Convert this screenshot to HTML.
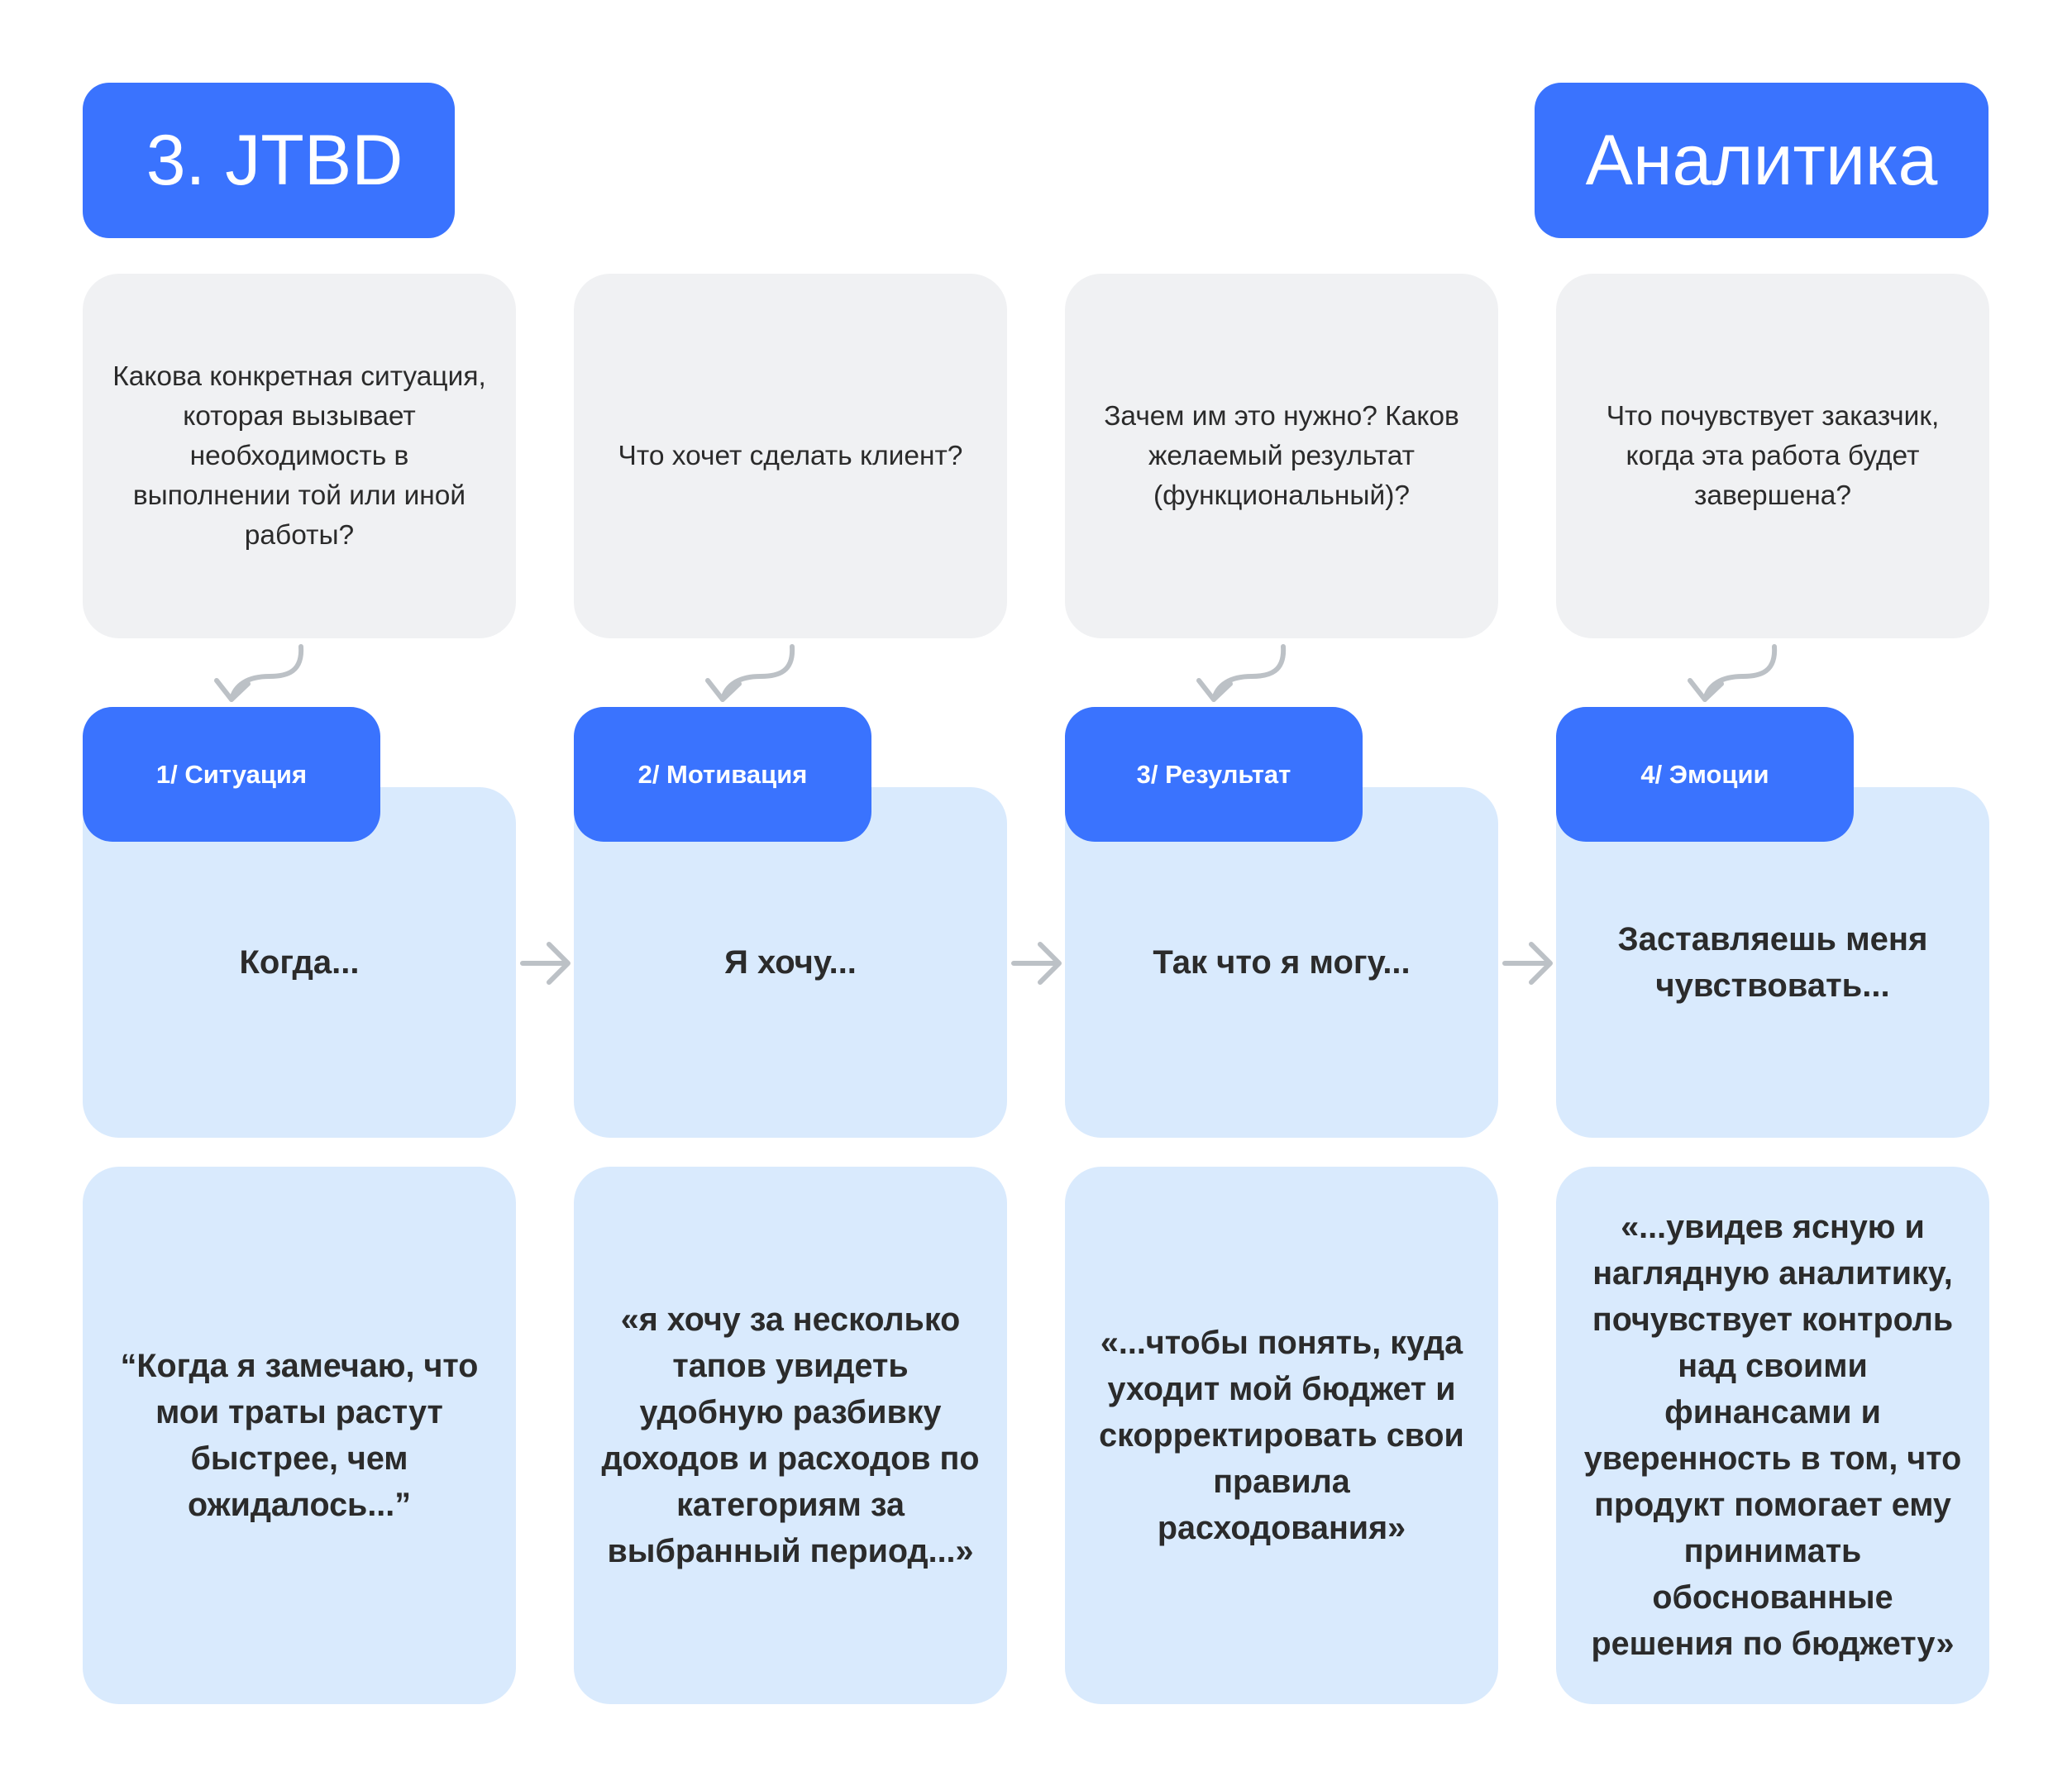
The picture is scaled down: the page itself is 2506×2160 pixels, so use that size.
<!DOCTYPE html>
<html><head><meta charset="utf-8"><style>
*{margin:0;padding:0;box-sizing:border-box}
body{width:2506px;height:2160px;background:#fff;position:relative;overflow:hidden;font-family:"Liberation Sans","DejaVu Sans",sans-serif;color:#2b2b2b}
.b{position:absolute;display:flex;align-items:center;justify-content:center;text-align:center;white-space:nowrap}
.hd{background:#3a73fe;color:#fff;border-radius:32px;font-size:86px;top:100px;height:188px}
.g{background:#f0f1f3;border-radius:44px;top:331px;height:441px;width:524px;font-size:33.5px;line-height:48px}
.lb{background:#d9eafd;border-radius:44px;top:952px;height:424px;width:524px;font-size:40px;font-weight:bold;line-height:56px}
.tab{background:#3a73fe;color:#fff;border-radius:36px;top:855px;height:163px;width:360px;font-size:31px;font-weight:bold}
.bt{background:#d9eafd;border-radius:44px;top:1411px;height:650px;width:524px;font-size:39.5px;font-weight:bold;line-height:56px}
</style></head><body>
<div class="b hd" style="left:100px;width:450px;padding-left:14px">3. JTBD</div>
<div class="b hd" style="left:1856px;width:549px">Аналитика</div>

<div class="b g" style="left:100px">Какова конкретная ситуация,<br>которая вызывает<br>необходимость в<br>выполнении той или иной<br>работы?</div>
<div class="b g" style="left:694px">Что хочет сделать клиент?</div>
<div class="b g" style="left:1288px">Зачем им это нужно? Каков<br>желаемый результат<br>(функциональный)?</div>
<div class="b g" style="left:1882px">Что почувствует заказчик,<br>когда эта работа будет<br>завершена?</div>

<div class="b lb" style="left:100px">Когда...</div>
<div class="b lb" style="left:694px">Я хочу...</div>
<div class="b lb" style="left:1288px">Так что я могу...</div>
<div class="b lb" style="left:1882px;align-items:flex-start;padding-top:156px">Заставляешь меня<br>чувствовать...</div>

<div class="b tab" style="left:100px">1/ Ситуация</div>
<div class="b tab" style="left:694px">2/ Мотивация</div>
<div class="b tab" style="left:1288px">3/ Результат</div>
<div class="b tab" style="left:1882px">4/ Эмоции</div>

<div class="b bt" style="left:100px">“Когда я замечаю, что<br>мои траты растут<br>быстрее, чем<br>ожидалось...”</div>
<div class="b bt" style="left:694px">«я хочу за несколько<br>тапов увидеть<br>удобную разбивку<br>доходов и расходов по<br>категориям за<br>выбранный период...»</div>
<div class="b bt" style="left:1288px">«...чтобы понять, куда<br>уходит мой бюджет и<br>скорректировать свои<br>правила<br>расходования»</div>
<div class="b bt" style="left:1882px">«...увидев ясную и<br>наглядную аналитику,<br>почувствует контроль<br>над своими<br>финансами и<br>уверенность в том, что<br>продукт помогает ему<br>принимать<br>обоснованные<br>решения по бюджету»</div>

<svg width="2506" height="2160" style="position:absolute;left:0;top:0" fill="none" stroke="#bcc1c6" stroke-width="6" stroke-linecap="round" stroke-linejoin="round">
<g id="c">
<path d="M364 782 C366 812 348 818 326 818 C300 818 284 828 280 846"/>
<path d="M262 823 L280 846 L300 827"/>
<path d="M632 1165 L684 1165 M664 1142 L687 1165 L664 1188"/>
</g>
<use href="#c" x="594"/>
<use href="#c" x="1188"/>
<path d="M2146 782 C2148 812 2130 818 2108 818 C2082 818 2066 828 2062 846"/>
<path d="M2044 823 L2062 846 L2082 827"/>
</svg>
</body></html>
